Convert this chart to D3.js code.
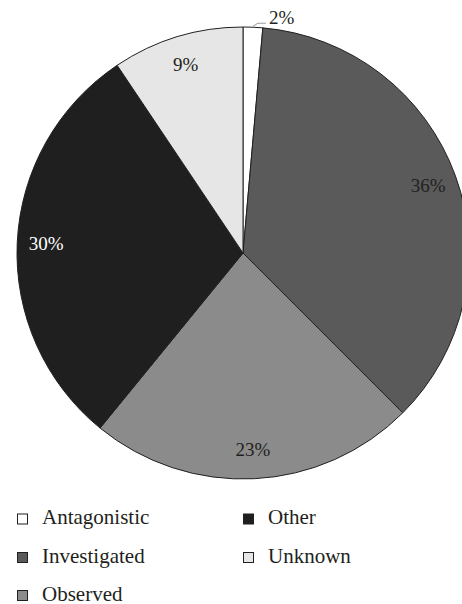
<!DOCTYPE html>
<html>
<head>
<meta charset="utf-8">
<script src="https://cdn.jsdelivr.net/npm/d3@7"></script>
<style>
  body { margin: 0; background: #fff; }
  svg { display: block; }
</style>
</head>
<body>
<div id="chart"></div>
<script>
// data
const categories = ["Antagonistic", "Investigated", "Observed", "Other", "Unknown"]
const shares = [1.4, 36.1, 23.4, 29.7, 9.4]
const labels = ["2%", "36%", "23%", "30%", "9%"]
const fills = ["#ffffff", "#595a59", "#8a8b8a", "#1f1f1f", "#e6e6e6"]
const labelColors = ["#231f20", "#231f20", "#231f20", "#ffffff", "#231f20"]

const dataset = categories.map((c, i) => ({
  name: c, value: shares[i], label: labels[i], fill: fills[i], color: labelColors[i]
}))

const serif = "'Liberation Serif'"
const width = 462
const height = 604
const cx = 243
const cy = 253
const radius = 226

const wrapper = d3.select("#chart")
  .append("svg")
    .attr("width", width)
    .attr("height", height)

const bounds = wrapper.append("g")
    .attr("transform", `translate(${cx},${cy})`)

const pie = d3.pie()
  .sort(null)
  .value(d => d.value)

const arcs = pie(dataset)

const arcGen = d3.arc()
  .innerRadius(0)
  .outerRadius(radius)

const labelArc = d3.arc()
  .innerRadius(197)
  .outerRadius(197)

// slices
bounds.selectAll("path")
  .data(arcs)
  .enter()
  .append("path")
    .attr("d", arcGen)
    .attr("fill", d => d.data.fill)
    .attr("stroke", "#231f20")
    .attr("stroke-width", 1)
    .attr("stroke-linejoin", "round")

// inside labels (skip the tiny slice)
bounds.selectAll(".pct")
  .data(arcs.filter(d => d.data.value > 3))
  .enter()
  .append("text")
    .attr("class", "pct")
    .attr("transform", d => `translate(${labelArc.centroid(d)})`)
    .attr("text-anchor", "middle")
    .attr("dy", "0.35em")
    .attr("font-size", 19)
    .style("font-family", serif)
    .attr("fill", d => d.data.color)
    .text(d => d.data.label)

// outside label with leader line for the small slice
const small = arcs.filter(d => d.data.value <= 3)
small.forEach(d => {
  const mid = (d.startAngle + d.endAngle) / 2
  const p0 = [Math.sin(mid) * (radius + 1), -Math.cos(mid) * (radius + 1)]
  const p1 = [p0[0] + 5, p0[1] - 3]
  const p2 = [p1[0] + 8, p1[1]]
  bounds.append("polyline")
    .attr("points", [p0, p1, p2].map(p => p.join(",")).join(" "))
    .attr("fill", "none")
    .attr("stroke", "#9a9a9a")
    .attr("stroke-width", 1)
  bounds.append("text")
    .attr("x", p2[0] + 3)
    .attr("y", p2[1] + 1)
    .attr("font-size", 19)
    .style("font-family", serif)
    .attr("fill", "#231f20")
    .text(d.data.label)
})

// legend, column-major in 3 rows
const legend = wrapper.append("g")
const rows = 3
const colX = [17, 243]
const rowY = [519, 557.5, 595.5]

const items = legend.selectAll("g")
  .data(dataset)
  .enter()
  .append("g")
    .attr("transform", (d, i) => `translate(${colX[Math.floor(i / rows)]},${rowY[i % rows]})`)

items.append("rect")
    .attr("x", 0.5)
    .attr("y", -5)
    .attr("width", 10)
    .attr("height", 10)
    .attr("fill", d => d.fill)
    .attr("stroke", "#231f20")
    .attr("stroke-width", 1)

items.append("text")
    .attr("x", 25)
    .attr("y", 5)
    .attr("font-size", 21)
    .style("font-family", serif)
    .attr("fill", "#231f20")
    .text(d => d.name)
</script>
</body>
</html>
